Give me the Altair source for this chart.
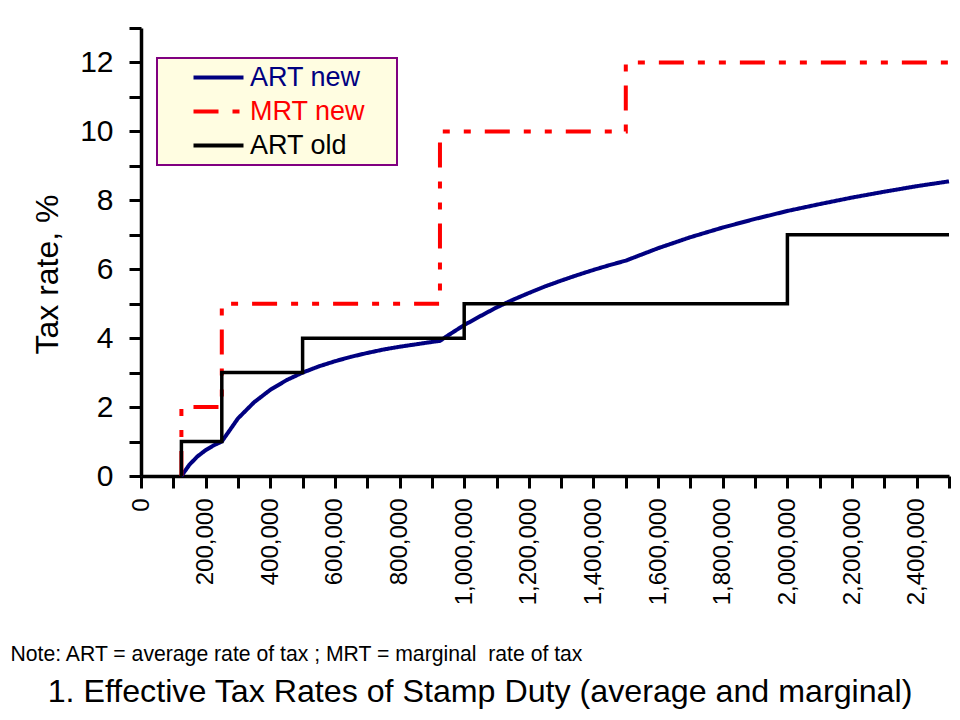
import altair as alt
import pandas as pd

FONT = "Liberation Sans, Arial, sans-serif"

series_names = ["ART new", "MRT new", "ART old"]
series_colors = ["#000080", "#FF0000", "#000000"]
series_dashes = [[1, 0], [25, 14, 7, 14, 7, 14], [1, 0]]
series_widths = [4, 4, 3.5]

# ART new (average rate, new system)
art_new_x = [125000, 150000, 175000, 200000, 225000, 250000, 300000, 350000, 400000,
             450000, 500000, 550000, 600000, 650000, 700000, 750000, 800000, 850000,
             900000, 925000, 950000, 1000000, 1050000, 1100000, 1150000, 1200000,
             1250000, 1300000, 1350000, 1400000, 1450000, 1500000, 1600000, 1700000,
             1800000, 1900000, 2000000, 2100000, 2200000, 2300000, 2400000, 2500000]
art_new_y = [0.0, 0.33, 0.57, 0.75, 0.89, 1.0, 1.67, 2.14, 2.5,
             2.78, 3.0, 3.18, 3.33, 3.46, 3.57, 3.67, 3.75, 3.82,
             3.89, 3.92, 4.08, 4.38, 4.64, 4.89, 5.11, 5.31,
             5.5, 5.67, 5.83, 5.98, 6.12, 6.25, 6.61, 6.93,
             7.21, 7.46, 7.69, 7.89, 8.08, 8.25, 8.41, 8.55]

# MRT new (marginal rate, new system) step vertices
mrt_new_x = [125000, 125000, 250000, 250000, 925000, 925000, 1500000, 1500000, 2500000]
mrt_new_y = [0, 2, 2, 5, 5, 10, 10, 12, 12]

# ART old (average rate, old slab system) step vertices
art_old_x = [125000, 125000, 250000, 250000, 500000, 500000, 1000000, 1000000,
             2000000, 2000000, 2500000]
art_old_y = [0, 1, 1, 3, 3, 4, 4, 5, 5, 7, 7]

x_tick_values = list(range(0, 2500001, 100000))
y_tick_values = list(range(0, 14))

rows = []
for name, xs, ys in [("ART new", art_new_x, art_new_y),
                     ("MRT new", mrt_new_x, mrt_new_y),
                     ("ART old", art_old_x, art_old_y)]:
    for i, (xv, yv) in enumerate(zip(xs, ys)):
        rows.append({"series": name, "price": xv, "rate": yv, "idx": i})
df = pd.DataFrame(rows)

label_color_expr = ("datum.label == 'ART new' ? '#000080' : "
                    "(datum.label == 'MRT new' ? '#FF0000' : '#000000')")

leg = alt.Legend(
    title="\u00a0", titleOrient="right", titlePadding=26, titleFontSize=2,
    orient="none", legendX=16, legendY=30,
    fillColor="#FFFDE1", strokeColor="#800080",
    padding=6, symbolOffset=42, symbolType="M-2.5,0L2.5,0", symbolSize=400,
    symbolStrokeWidth=4, labelFontSize=27, labelFont=FONT, labelOffset=18,
    rowPadding=6, labelColor=alt.ExprRef(label_color_expr),
    labelLimit=400,
)

x_enc = alt.X(
    "price:Q",
    scale=alt.Scale(domain=[0, 2500000], nice=False, zero=True),
    axis=alt.Axis(
        values=x_tick_values,
        labelExpr="datum.value % 200000 == 0 ? format(datum.value, ',') : ''",
        labelAngle=270, labelAlign="right", labelBaseline="middle",
        labelFontSize=24, labelPadding=10,
        title="Note: ART = average rate of tax ; MRT = marginal\u00a0\u00a0rate of tax",
        titleX=-131, titleY=178, titleAlign="left", titleBaseline="middle",
        titleAnchor="start", titleFontSize=21.2, titleFontWeight="normal",
    ),
)
y_enc = alt.Y(
    "rate:Q",
    scale=alt.Scale(domain=[0, 13], nice=False),
    axis=alt.Axis(
        values=y_tick_values,
        labelExpr="datum.value % 2 == 0 ? datum.label : ''",
        labelFontSize=30, labelPadding=16,
        title="Tax rate, %", titleFontSize=32, titleFontWeight="normal",
        titleX=-94, titleY=246, titleAngle=270, titleAlign="center",
        titleBaseline="middle",
    ),
)
color_enc = alt.Color("series:N", scale=alt.Scale(domain=series_names, range=series_colors),
                      legend=leg)
dash_enc = alt.StrokeDash("series:N", scale=alt.Scale(domain=series_names, range=series_dashes),
                          legend=leg)

layers = []
for name, w in zip(series_names, series_widths):
    layers.append(
        alt.Chart(df)
        .transform_filter(alt.datum.series == name)
        .mark_line(strokeWidth=w)
        .encode(x=x_enc, y=y_enc, color=color_enc, strokeDash=dash_enc,
                order=alt.Order("idx:Q"))
    )

chart = (
    alt.layer(*layers)
    .properties(
        width=808, height=448,
        padding={"left": 133, "top": 20, "right": 3, "bottom": 236},
        autosize="none",
        title=alt.TitleParams(
            text="1. Effective Tax Rates of Stamp Duty (average and marginal)",
            orient="bottom", anchor="middle", fontSize=32.2, font=FONT,
            fontWeight="normal", color="black", dx=-65, offset=13,
        ),
    )
    .configure_view(stroke=None)
    .configure_legend(strokeWidth=2)
    .configure_axis(
        grid=False, domainColor="black", domainWidth=3.5, tickColor="black",
        tickWidth=3, tickSize=12, labelColor="black", titleColor="black",
        labelFont=FONT, titleFont=FONT,
    )
)

chart.save("out.html", embed_options={"renderer": "svg", "actions": False})
